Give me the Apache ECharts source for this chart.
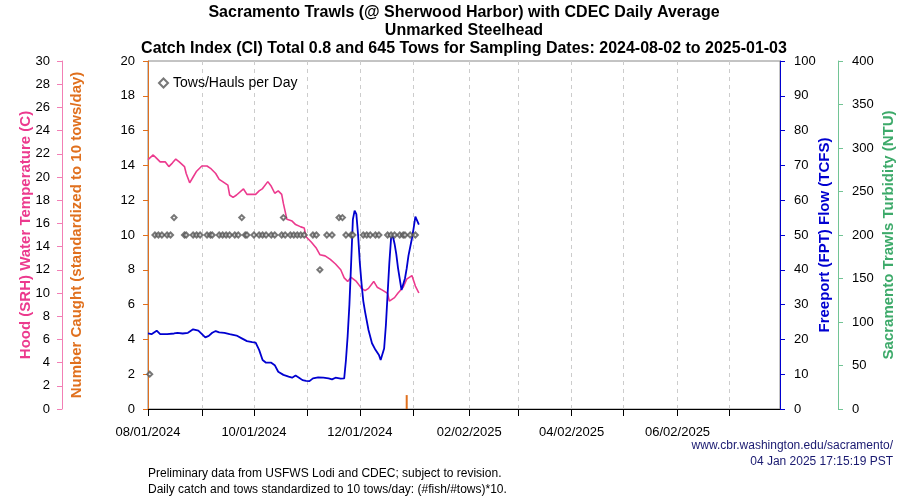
<!DOCTYPE html>
<html>
<head>
<meta charset="utf-8">
<script src="https://cdn.jsdelivr.net/npm/echarts@6/dist/echarts.min.js"></script>
<style>html,body{margin:0;padding:0;background:#fff}#c{width:900px;height:500px}</style>
</head>
<body>
<div id="c"></div>
<script>
// ---- data ----
const titleLines = [
  'Sacramento Trawls (@ Sherwood Harbor) with CDEC Daily Average',
  'Unmarked Steelhead',
  'Catch Index (CI) Total 0.8 and 645 Tows for Sampling Dates: 2024-08-02 to 2025-01-03'
];
const xStart = '2024-08-01';
const xEnd = '2025-07-31';
const xTickDates = ['2024-08-01','2024-09-01','2024-10-01','2024-11-01','2024-12-01','2025-01-01',
  '2025-02-02','2025-03-02','2025-04-02','2025-05-02','2025-06-02','2025-07-02'];
const xLabelDates = ['2024-08-01','2024-10-01','2024-12-01','2025-02-02','2025-04-02','2025-06-02'];

const tempDates = ['2024-08-01','2024-08-04','2024-08-06','2024-08-08','2024-08-11','2024-08-13','2024-08-15',
  '2024-08-17','2024-08-19','2024-08-22','2024-08-23','2024-08-25','2024-08-27','2024-08-29','2024-09-01',
  '2024-09-04','2024-09-06','2024-09-09','2024-09-11','2024-09-13','2024-09-16','2024-09-17','2024-09-19',
  '2024-09-21','2024-09-25','2024-09-27','2024-09-30','2024-10-02','2024-10-04','2024-10-06','2024-10-09',
  '2024-10-11','2024-10-13','2024-10-15','2024-10-17','2024-10-18','2024-10-20','2024-10-23','2024-10-25',
  '2024-10-28','2024-10-30','2024-10-31','2024-11-03','2024-11-06','2024-11-08','2024-11-11','2024-11-14',
  '2024-11-17','2024-11-20','2024-11-22','2024-11-24','2024-11-26','2024-11-29','2024-12-02','2024-12-04',
  '2024-12-06','2024-12-09','2024-12-11','2024-12-14','2024-12-17','2024-12-18','2024-12-21','2024-12-23',
  '2024-12-26','2024-12-28','2024-12-31','2025-01-02','2025-01-04'];
const tempValues = [21.5,21.9,21.6,21.3,21.3,20.9,21.2,
  21.55,21.3,20.9,20.3,19.5,20.0,20.5,20.95,
  20.95,20.75,20.3,19.8,19.6,19.3,18.45,18.25,
  18.45,18.97,18.5,18.5,18.5,18.8,19.0,19.6,
  19.2,18.6,18.8,18.5,17.7,16.35,16.2,15.9,
  15.7,15.6,14.85,14.4,13.85,13.3,13.2,12.9,
  12.5,12.0,11.3,11.0,11.35,11.0,10.4,10.2,
  10.4,11.0,10.5,10.25,9.97,9.3,9.6,10.0,
  10.5,11.2,11.5,10.6,10.0];

const flowDates = ['2024-08-01','2024-08-03','2024-08-06','2024-08-08','2024-08-12','2024-08-16','2024-08-18',
  '2024-08-21','2024-08-24','2024-08-27','2024-08-30','2024-09-03','2024-09-05','2024-09-07','2024-09-09',
  '2024-09-11','2024-09-14','2024-09-17','2024-09-21','2024-09-24','2024-09-27','2024-09-30','2024-10-02',
  '2024-10-04','2024-10-06','2024-10-08','2024-10-11','2024-10-13','2024-10-15','2024-10-18','2024-10-21',
  '2024-10-23','2024-10-25','2024-10-27','2024-10-29','2024-10-31','2024-11-02','2024-11-04','2024-11-07',
  '2024-11-10','2024-11-13','2024-11-15','2024-11-17','2024-11-20','2024-11-22','2024-11-23','2024-11-24',
  '2024-11-25','2024-11-26','2024-11-27','2024-11-28','2024-11-29','2024-11-30','2024-12-01','2024-12-02',
  '2024-12-03','2024-12-04','2024-12-06','2024-12-08','2024-12-10','2024-12-12','2024-12-13','2024-12-15',
  '2024-12-16','2024-12-17','2024-12-18','2024-12-19','2024-12-20','2024-12-21','2024-12-22','2024-12-23',
  '2024-12-25','2024-12-27','2024-12-28','2024-12-29','2024-12-31','2025-01-01','2025-01-02','2025-01-03','2025-01-04'];
const flowValues = [21.7,21.5,22.5,21.5,21.5,21.7,21.9,
  21.7,21.9,22.9,22.5,20.6,21.0,21.9,22.4,
  22.0,21.9,21.5,21.1,20.3,19.5,19.2,19.1,
  17.0,14.1,13.3,13.3,12.6,10.7,9.8,9.3,
  9.0,9.6,9.0,8.3,8.1,8.0,8.8,9.1,
  9.0,8.8,8.5,9.0,8.7,8.8,14.0,21.0,
  30.0,42.0,54.5,57.0,56.0,50.0,42.0,36.0,
  31.0,28.0,22.7,18.9,17.0,15.5,14.1,17.4,
  24.0,33.0,42.0,49.1,49.7,47.5,44.5,40.5,
  34.2,37.5,40.4,44.0,49.0,52.0,55.3,54.8,53.0,50.5];

const towDates = ['2024-08-02','2024-08-05','2024-08-07','2024-08-09','2024-08-12','2024-08-14','2024-08-16',
  '2024-08-22','2024-08-23','2024-08-27','2024-08-29','2024-08-31','2024-09-04','2024-09-06','2024-09-07',
  '2024-09-11','2024-09-13','2024-09-15','2024-09-17','2024-09-20','2024-09-22','2024-09-24','2024-09-26',
  '2024-09-27','2024-10-01','2024-10-04','2024-10-06','2024-10-08','2024-10-11','2024-10-13','2024-10-17',
  '2024-10-18','2024-10-19','2024-10-22','2024-10-24','2024-10-26','2024-10-28','2024-10-30','2024-11-04',
  '2024-11-06','2024-11-08','2024-11-12','2024-11-15','2024-11-19','2024-11-21','2024-11-23','2024-11-26',
  '2024-11-27','2024-12-03','2024-12-05','2024-12-07','2024-12-10','2024-12-12','2024-12-17','2024-12-19',
  '2024-12-21','2024-12-24','2024-12-26','2024-12-27','2024-12-30','2025-01-02'];
const towValues = [2,10,10,10,10,10,11,
  10,10,10,10,10,10,10,10,
  10,10,10,10,10,10,11,10,
  10,10,10,10,10,10,10,10,
  11,10,10,10,10,10,10,10,
  10,8,10,10,11,11,10,10,
  10,10,10,10,10,10,10,10,
  10,10,10,10,10,10];

const catchDates = ['2024-12-28'];
const catchValues = [0.8];

// ---- helpers ----
const DAY = 86400000;
function ut(s){ const p = s.split('-').map(Number); return Date.UTC(p[0], p[1]-1, p[2]); }
const t0 = ut(xStart);
function dayOf(s){ return Math.round((ut(s) - t0) / DAY); }
function fmtDay(d){
  const dt = new Date(t0 + d*DAY);
  const mm = String(dt.getUTCMonth()+1).padStart(2,'0');
  const dd = String(dt.getUTCDate()).padStart(2,'0');
  return mm + '/' + dd + '/' + dt.getUTCFullYear();
}
function pairs(dates, vals){ return dates.map((d,i)=>[dayOf(d), vals[i]]); }

const PINK = '#EC3A8E', PINK_AX = '#F27FB5';
const ORANGE = '#E0701E';
const BLUE = '#0000D0';
const GREEN = '#3DAA6A', GREEN_AX = '#72C495';
const FONT = 'Liberation Sans, Arial, sans-serif';
const NARROW = '"Liberation Sans Narrow", "Liberation Sans", Arial, sans-serif';

const chart = echarts.init(document.getElementById('c'), null, {renderer:'canvas'});

function yAx(o, margin){
  return Object.assign({
    type:'value', splitLine:{show:false},
    axisLabel:{color:'#000', fontSize:13, fontFamily:FONT, margin:margin},
    nameLocation:'middle', nameMoveOverlap:false
  }, o);
}

const option = {
  animation:false,
  backgroundColor:'#fff',
  grid:{left:148, right:120, top:61, bottom:91, show:true, borderColor:'#888', borderWidth:1,
    backgroundColor:'transparent', containLabel:false, outerBoundsMode:'none'},
  legend:{
    data:[{name:'Tows/Hauls per Day', icon:'emptyDiamond'}],
    left:153, top:71, itemWidth:9, itemHeight:9, itemGap:7,
    textStyle:{fontSize:14, fontFamily:FONT, color:'#000'}
  },
  xAxis:{
    type:'value', min:0, max:dayOf(xEnd),
    axisLine:{show:true, onZero:false, lineStyle:{color:'#000', width:1}},
    axisTick:{show:true, length:7, customValues: xTickDates.map(dayOf), lineStyle:{color:'#000'}},
    axisLabel:{customValues: xLabelDates.map(dayOf), formatter:(v)=>fmtDay(v), color:'#000', fontSize:13, fontFamily:FONT, margin:17},
    splitLine:{show:true, lineStyle:{color:'#ccc', type:[4,4], width:1}}
  },
  yAxis:[
    yAx({min:0, max:20, interval:2, position:'left', offset:0,
      axisLine:{show:true, lineStyle:{color:ORANGE, width:1}},
      axisTick:{show:true, length:5, lineStyle:{color:ORANGE}},
      name:'Number Caught (standardized to 10 tows/day)', nameGap:64,
      nameTextStyle:{color:ORANGE, fontSize:15, fontWeight:'bold', fontFamily:FONT}}, 13),
    yAx({min:0, max:30, interval:2, position:'left', offset:86,
      axisLine:{show:true, lineStyle:{color:PINK_AX, width:1}},
      axisTick:{show:true, length:5, lineStyle:{color:PINK_AX}},
      name:'Hood (SRH) Water Temperature (C)', nameGap:29,
      nameTextStyle:{color:PINK, fontSize:15, fontWeight:'bold', fontFamily:FONT}}, 12),
    yAx({min:0, max:100, interval:10, position:'right', offset:0,
      axisLine:{show:true, lineStyle:{color:BLUE, width:1}},
      axisTick:{show:true, length:5, lineStyle:{color:BLUE}},
      name:'Freeport (FPT) Flow (TCFS)', nameGap:37,
      nameTextStyle:{color:BLUE, fontSize:15, fontWeight:'bold', fontFamily:FONT}}, 14),
    yAx({min:0, max:400, interval:50, position:'right', offset:58,
      axisLine:{show:true, lineStyle:{color:GREEN_AX, width:1}},
      axisTick:{show:true, length:5, lineStyle:{color:GREEN_AX}},
      name:'Sacramento Trawls Turbidity (NTU)', nameGap:43,
      nameTextStyle:{color:GREEN, fontSize:15, fontWeight:'bold', fontFamily:FONT}}, 14)
  ],
  series:[
    {name:'Temperature', type:'line', yAxisIndex:1, data:pairs(tempDates,tempValues), showSymbol:false,
      lineStyle:{color:PINK, width:1.6}, itemStyle:{color:PINK}, z:3},
    {name:'Flow', type:'line', yAxisIndex:2, data:pairs(flowDates,flowValues), showSymbol:false,
      lineStyle:{color:BLUE, width:1.8}, itemStyle:{color:BLUE}, z:3},
    {name:'Tows/Hauls per Day', type:'scatter', yAxisIndex:0, data:pairs(towDates,towValues),
      symbol:'emptyDiamond', symbolSize:5, itemStyle:{color:'#555', borderWidth:0.6}, z:4},
    {name:'Catch', type:'bar', yAxisIndex:0, data:pairs(catchDates,catchValues), barWidth:2,
      itemStyle:{color:ORANGE}, z:2}
  ],
  graphic:[
    {type:'text', x:464, y:13, style:{text:titleLines[0], textAlign:'center', textVerticalAlign:'middle', font:'bold 16px ' + NARROW, fill:'#000'}},
    {type:'text', x:464, y:31, style:{text:titleLines[1], textAlign:'center', textVerticalAlign:'middle', font:'bold 16px ' + NARROW, fill:'#000'}},
    {type:'text', x:464, y:49, style:{text:titleLines[2], textAlign:'center', textVerticalAlign:'middle', font:'bold 16px ' + NARROW, fill:'#000'}},
    {type:'text', x:893, y:446, style:{text:'www.cbr.washington.edu/sacramento/', textAlign:'right', textVerticalAlign:'middle', font:'12px ' + NARROW, fill:'#191970'}},
    {type:'text', x:893, y:462, style:{text:'04 Jan 2025 17:15:19 PST', textAlign:'right', textVerticalAlign:'middle', font:'12px ' + NARROW, fill:'#191970'}},
    {type:'text', x:148, y:474, style:{text:'Preliminary data from USFWS Lodi and CDEC; subject to revision.', textAlign:'left', textVerticalAlign:'middle', font:'12px ' + NARROW, fill:'#000'}},
    {type:'text', x:148, y:490, style:{text:'Daily catch and tows standardized to 10 tows/day: (#fish/#tows)*10.', textAlign:'left', textVerticalAlign:'middle', font:'12px ' + NARROW, fill:'#000'}}
  ]
};
chart.setOption(option);
</script>
</body>
</html>
